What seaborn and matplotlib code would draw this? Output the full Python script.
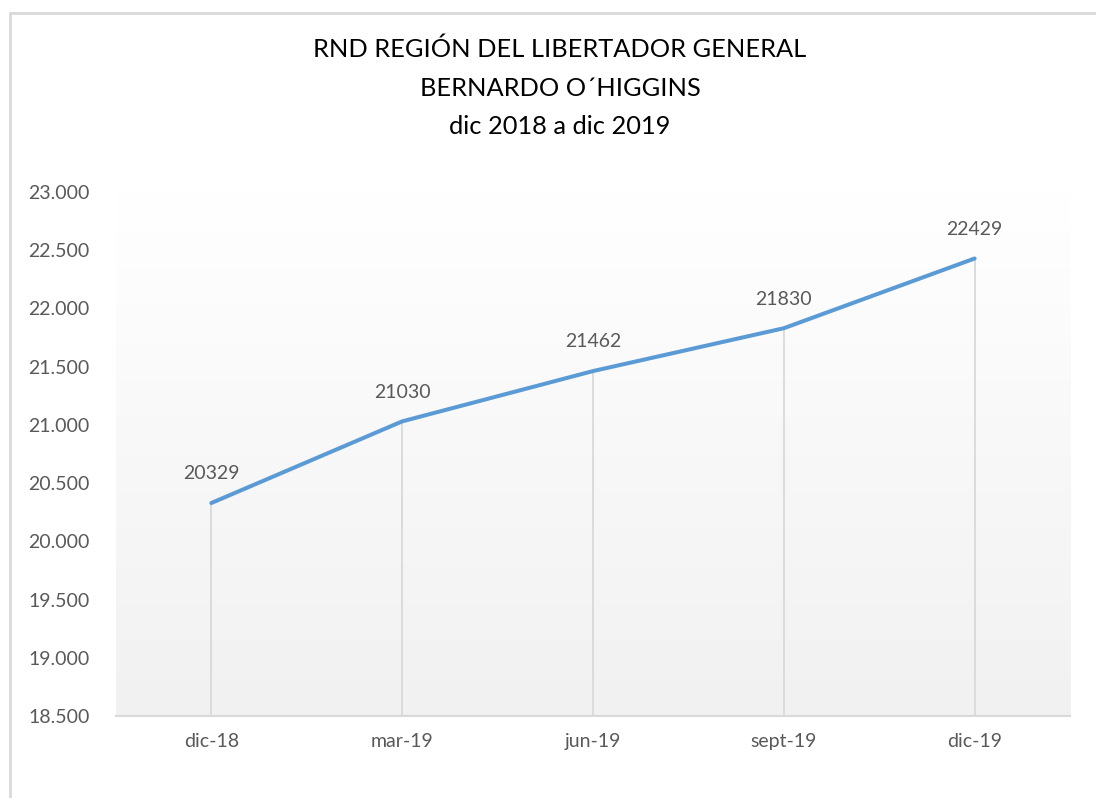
import numpy as np
import pandas as pd
import matplotlib.pyplot as plt
import seaborn as sns
from matplotlib.lines import Line2D

sns.set_theme(style="white")
plt.rcParams["font.family"] = ["Lato", "DejaVu Sans"]

# Datos
periodos = ["dic-18", "mar-19", "jun-19", "sept-19", "dic-19"]
valores = [20329, 21030, 21462, 21830, 22429]
y_ticks = [18500, 19000, 19500, 20000, 20500, 21000, 21500, 22000, 22500, 23000]
titulo = "RND REGIÓN DEL LIBERTADOR GENERAL\nBERNARDO O´HIGGINS\ndic 2018 a dic 2019"

df = pd.DataFrame({"periodo": periodos, "valor": valores})
df["x"] = range(len(df))

gris_texto = "#595959"
gris_linea = "#D9D9D9"
azul = "#5B9BD5"

fig = plt.figure(figsize=(10.96, 7.98), dpi=100)
ax = fig.add_axes([0.1058, 0.1028, 0.8705, 0.6566])

# Fondo degradado del área de trazado
grad = np.linspace(0, 1, 256).reshape(-1, 1)
ax.imshow(grad, cmap=plt.matplotlib.colors.LinearSegmentedColormap.from_list(
    "g", ["#F1F1F1", "#FFFFFF"]), aspect="auto",
    extent=(-0.5, 4.5, 18500, 23000), origin="lower", zorder=0)

# Líneas de proyección
ax.vlines(df["x"], 18500, df["valor"], color=gris_linea, lw=1.3, zorder=1)

sns.lineplot(data=df, x="x", y="valor", color=azul, lw=2.9, ax=ax, zorder=3,
             solid_capstyle="round")

for xi, v in zip(df["x"], df["valor"]):
    ax.annotate(str(v), (xi, v), xytext=(0, 21), textcoords="offset points",
                ha="center", va="center", fontsize=14, color=gris_texto)

ax.set_xlim(-0.5, 4.5)
ax.set_ylim(18500, 23000)
ax.set_xticks(df["x"])
ax.set_xticklabels(periodos)
ax.set_yticks(y_ticks)
ax.set_yticklabels([f"{t:,}".replace(",", ".") for t in y_ticks])
ax.tick_params(axis="both", length=0, labelsize=14, labelcolor=gris_texto)
ax.tick_params(axis="x", pad=12)
ax.tick_params(axis="y", pad=19)
ax.set_xlabel("")
ax.set_ylabel("")
for s in ["top", "right", "left"]:
    ax.spines[s].set_visible(False)
ax.spines["bottom"].set_color(gris_linea)
ax.spines["bottom"].set_linewidth(1.5)
ax.spines["bottom"].set_zorder(2)

fig.text(0.511, 0.890, titulo, ha="center", va="center", fontsize=18.3,
         color="#000000", linespacing=1.8)

# Borde del gráfico
fig.add_artist(Line2D([10 / 1096, 1.0], [1 - 13 / 798, 1 - 13 / 798],
                      color=gris_linea, lw=2))
fig.add_artist(Line2D([10 / 1096, 10 / 1096], [0.0, 1 - 13 / 798],
                      color=gris_linea, lw=2))

fig.savefig("out.png", dpi=100)
